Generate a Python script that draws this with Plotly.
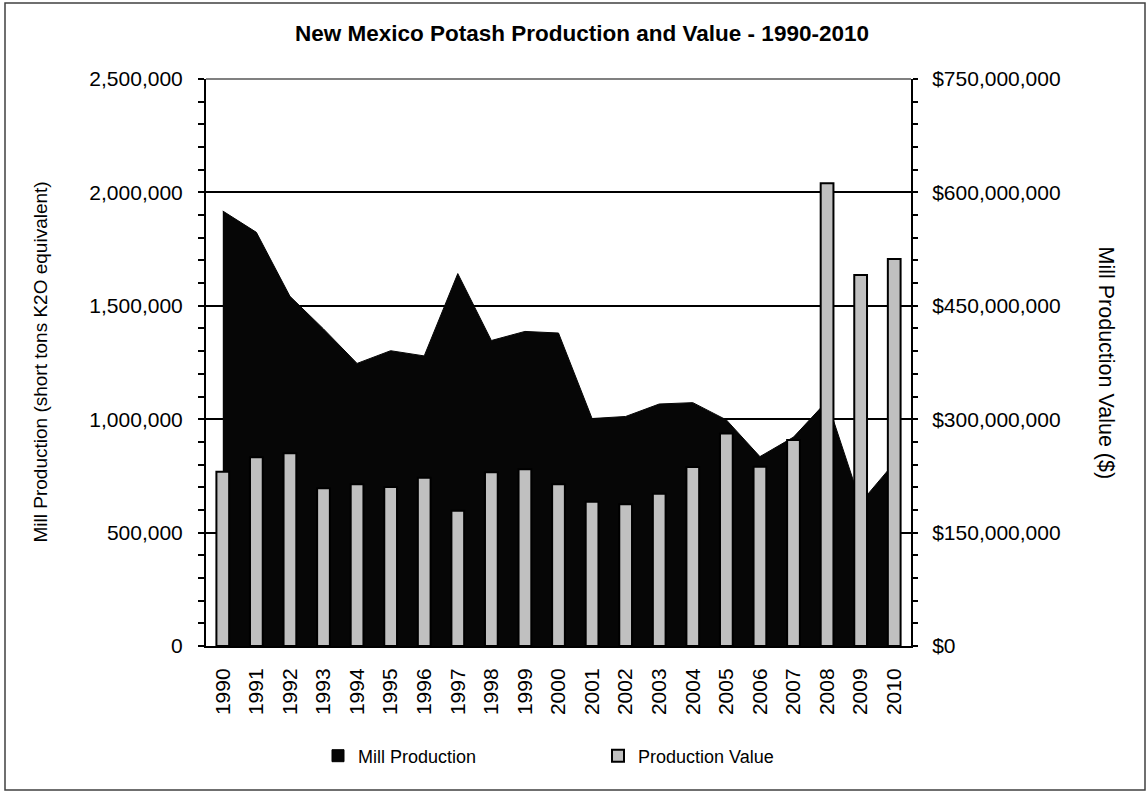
import plotly.graph_objects as go

years = [str(y) for y in range(1990, 2011)]
mill_production = [1918000, 1824000, 1542000, 1398000, 1246000, 1302000, 1279000,
                   1642000, 1347000, 1387000, 1380000, 1003000, 1012000, 1067000,
                   1073000, 997000, 835000, 921000, 1080000, 632000, 807000]
production_value = [230600000, 249600000, 255000000, 208600000, 213900000, 210300000,
                    222600000, 179000000, 229800000, 233700000, 213900000, 190900000,
                    187400000, 201500000, 236800000, 281000000, 237000000, 272500000,
                    612000000, 490700000, 512000000]

left_ticks = [0, 500000, 1000000, 1500000, 2000000, 2500000]
left_labels = ["0", "500,000", "1,000,000", "1,500,000", "2,000,000", "2,500,000"]
right_ticks = [0, 150000000, 300000000, 450000000, 600000000, 750000000]
right_labels = ["$0", "$150,000,000", "$300,000,000", "$450,000,000", "$600,000,000", "$750,000,000"]

FONT = "Liberation Sans, Arial, sans-serif"
TICK_FONT = dict(family=FONT, size=21, color="#000")

fig = go.Figure()
fig.add_trace(go.Scatter(
    x=years, y=mill_production, name="Mill Production", mode="lines",
    fill="tozeroy", fillcolor="#060606", line=dict(color="#060606", width=1),
    yaxis="y", showlegend=False, legendgroup="mill"))
# legend-only swatch (no drawn mark) so the legend shows a square like the original
fig.add_trace(go.Bar(
    x=[years[0]], y=[None], name="Mill Production", legendgroup="mill", yaxis="y",
    showlegend=True, hoverinfo="skip",
    marker=dict(color="#060606", line=dict(color="#000", width=1))))
fig.add_trace(go.Bar(
    x=years, y=production_value, name="Production Value", yaxis="y2",
    width=0.38, marker=dict(color="#c0c0c0", line=dict(color="#000000", width=2))))

fig.update_layout(
    width=1148, height=793,
    paper_bgcolor="white", plot_bgcolor="white",
    margin=dict(l=206, r=237, t=79, b=147, autoexpand=False),
    showlegend=True, barmode="overlay",
    title=dict(text="<b>New Mexico Potash Production and Value - 1990-2010</b>",
               x=582 / 1148, xanchor="center", y=1 - 33 / 793, yanchor="middle",
               font=dict(family=FONT, size=22.5, color="#000")),
    xaxis=dict(type="category", categoryorder="array", categoryarray=years,
               showgrid=False, showline=True, linecolor="#000",
               linewidth=2, ticks="", tickangle=-90, ticklabelstandoff=12,
               tickfont=TICK_FONT, range=[-0.5, 20.5]),
    yaxis=dict(range=[0, 2500000], tickvals=left_ticks, ticktext=left_labels,
               showgrid=True, gridcolor="#000", gridwidth=2,
               showline=True, linecolor="#000", linewidth=2, zeroline=False,
               ticks="outside", ticklen=6, tickwidth=2, tickcolor="#000",
               ticklabelstandoff=11, tickfont=TICK_FONT,
               minor=dict(dtick=100000, ticks="outside", ticklen=6, tickwidth=2,
                          tickcolor="#000", showgrid=False)),
    yaxis2=dict(range=[0, 750000000], tickvals=right_ticks, ticktext=right_labels,
                overlaying="y", side="right", showgrid=False, zeroline=False,
                showline=True, linecolor="#000", linewidth=2,
                ticks="outside", ticklen=5, tickwidth=2, tickcolor="#000",
                ticklabelstandoff=10, tickfont=TICK_FONT,
                minor=dict(dtick=30000000, ticks="outside", ticklen=5, tickwidth=2,
                           tickcolor="#000", showgrid=False)),
    yaxis3=dict(range=[0, 2500000], overlaying="y", side="left", showgrid=False,
                zeroline=False, showticklabels=False, tickvals=left_ticks,
                ticks="inside", ticklen=4, tickwidth=2, tickcolor="#000",
                minor=dict(dtick=100000, ticks="inside", ticklen=4, tickwidth=2,
                           tickcolor="#000", showgrid=False)),
    yaxis4=dict(range=[0, 750000000], overlaying="y", side="right", showgrid=False,
                zeroline=False, showticklabels=False, tickvals=right_ticks,
                ticks="inside", ticklen=5, tickwidth=2, tickcolor="#000",
                minor=dict(dtick=30000000, ticks="inside", ticklen=5, tickwidth=2,
                           tickcolor="#000", showgrid=False)),
    legend=dict(orientation="h", x=(318 - 206) / 705, xanchor="left",
                y=(646 - 756) / 567, yanchor="middle",
                entrywidth=235, entrywidthmode="pixels", itemwidth=30,
                font=dict(family=FONT, size=18, color="#000"),
                bgcolor="rgba(0,0,0,0)"),
)

# axis titles
fig.add_annotation(text="Mill Production (short tons K2O equivalent)", xref="paper", yref="paper",
                   x=(40 - 206) / 705, y=0.5, textangle=-90, showarrow=False,
                   xanchor="center", yanchor="middle",
                   font=dict(family=FONT, size=19, color="#000"))
fig.add_annotation(text="Mill Production Value ($)", xref="paper", yref="paper",
                   x=(1106 - 206) / 705, y=0.5, textangle=90, showarrow=False,
                   xanchor="center", yanchor="middle",
                   font=dict(family=FONT, size=21.5, color="#000"))

# top border of plot area (gray) and outer chart frame
fig.add_shape(type="line", xref="paper", yref="paper", x0=0, x1=1, y0=1, y1=1,
              line=dict(color="#808080", width=2), layer="above")
fig.add_shape(type="rect", xref="paper", yref="paper",
              x0=(5 - 206) / 705, x1=(1145 - 206) / 705,
              y0=(646 - 790) / 567, y1=(646 - 3) / 567,
              line=dict(color="#404040", width=1.5), layer="above")

fig.write_html("out.html", config={"displayModeBar": False},
               post_script="document.body.style.margin='0';")
